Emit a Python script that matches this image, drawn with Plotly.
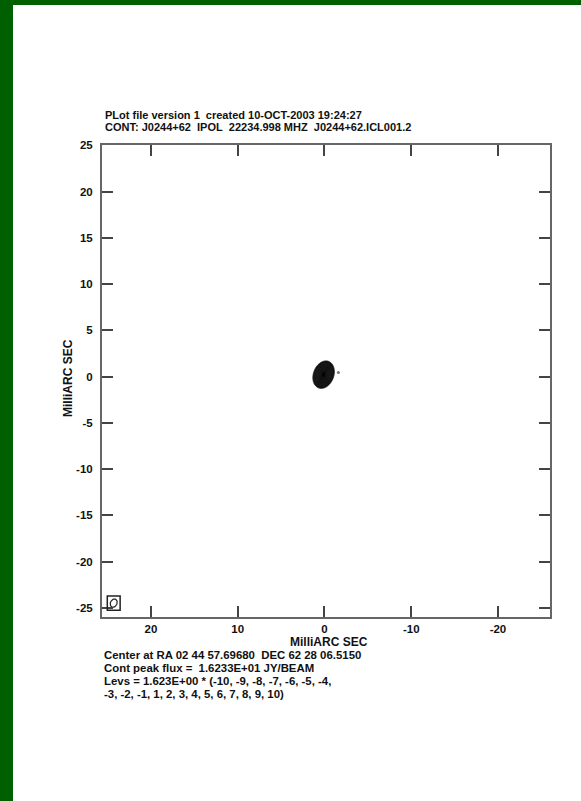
import numpy as np
import plotly.graph_objects as go

# ---- data ----
NB = "\u00a0"
title_lines = ["PLot file version 1" + NB * 2 + "created 10-OCT-2003 19:24:27",
               "CONT: J0244+62" + NB * 2 + "IPOL" + NB * 2 + "22234.998 MHZ" + NB * 2 + "J0244+62.ICL001.2"]
footer_lines = ["Center at RA 02 44 57.69680" + NB * 2 + "DEC 62 28 06.5150",
                "Cont peak flux =" + NB * 2 + "1.6233E+01 JY/BEAM",
                "Levs = 1.623E+00 * (-10, -9, -8, -7, -6, -5, -4,",
                "-3, -2, -1, 1, 2, 3, 4, 5, 6, 7, 8, 9, 10)"]
axis_title = "MilliARC SEC"
x_ticks = [20, 10, 0, -10, -20]
y_ticks = [25, 20, 15, 10, 5, 0, -5, -10, -15, -20, -25]
x_range = [25.65, -26.0]
y_range = [-26.0, 25.03]

peak_flux = 16.233
base_level = 1.623
level_multipliers = [-10, -9, -8, -7, -6, -5, -4, -3, -2, -1, 1, 2, 3, 4, 5, 6, 7, 8, 9, 10]

# source component (mas): centre, sigma major / minor, position angle (deg)
src_x, src_y = 0.1, 0.2
src_sig_maj, src_sig_min, src_pa = 0.72, 0.54, -25.0
# faint extra spot
spot_x = [-1.6]
spot_y = [0.43]
# restoring beam (mas)
beam_x, beam_y = 24.3, -24.5
beam_maj, beam_min, beam_pa = 0.95, 0.75, -30.0
beam_box_half = [0.74, 0.78]

# ---- build image ----
gx = np.arange(-3.0, 3.0001, 0.03)
gy = np.arange(-3.0, 3.0001, 0.03)
X, Y = np.meshgrid(gx, gy)
th = np.deg2rad(src_pa)
dx, dy = X - src_x, Y - src_y
u = dx * np.cos(th) - dy * np.sin(th)   # minor direction
v = dx * np.sin(th) + dy * np.cos(th)   # major direction
Z = peak_flux * np.exp(-0.5 * ((u / src_sig_min) ** 2 + (v / src_sig_maj) ** 2))

pos_levels = [base_level * m for m in level_multipliers if m > 0]

fig = go.Figure()
fig.add_trace(go.Contour(
    x=gx, y=gy, z=Z, zmin=0, zmax=peak_flux,
    contours=dict(start=min(pos_levels), end=max(pos_levels), size=base_level, coloring="fill"),
    colorscale=[[0, "rgba(255,255,255,0)"], [0.05, "rgba(255,255,255,0)"], [0.07, "#111"], [1, "#000"]],
    line=dict(width=1, color="#222"), showscale=False, hoverinfo="skip"))
fig.add_trace(go.Scatter(x=spot_x, y=spot_y, mode="markers",
                         marker=dict(size=3, color="#777"), hoverinfo="skip"))

# beam ellipse
t = np.linspace(0, 2 * np.pi, 60)
bt = np.deg2rad(beam_pa)
ea, eb = beam_maj / 2, beam_min / 2
ex = beam_x + eb * np.cos(t) * np.cos(bt) + ea * np.sin(t) * np.sin(bt)
ey = beam_y - eb * np.cos(t) * np.sin(bt) + ea * np.sin(t) * np.cos(bt)
fig.add_trace(go.Scatter(x=ex, y=ey, mode="lines", line=dict(color="#222", width=1.2), hoverinfo="skip"))
fig.add_shape(type="rect", xref="x", yref="y",
              x0=beam_x - beam_box_half[0], x1=beam_x + beam_box_half[0],
              y0=beam_y - beam_box_half[1], y1=beam_y + beam_box_half[1],
              line=dict(color="#222", width=1.5))

W, H = 581, 801
L, R, T, B = 102, 31, 145, 184
pw, ph = W - L - R, H - T - B

def px(xp):
    return (xp - L) / pw

def py(yp):
    return (H - B - yp) / ph

# white page on green background
fig.add_shape(type="rect", xref="paper", yref="paper", layer="below",
              x0=px(13), x1=px(W + 5), y0=py(H + 5), y1=py(5),
              fillcolor="white", line=dict(width=0))

FONT = "Liberation Sans, Arial, sans-serif"
ann = []
for s, yy in zip(title_lines, [114.6, 127.3]):
    ann.append(dict(text=s, x=px(103), y=py(yy), xanchor="left", yanchor="middle",
                    font=dict(size=11, weight="bold")))
for s, yy in zip(footer_lines, [654.5, 667.7, 680.9, 694.1]):
    ann.append(dict(text=s, x=px(102), y=py(yy), xanchor="left", yanchor="middle",
                    font=dict(size=11.4, weight="bold")))
ann.append(dict(text=axis_title, x=px(328.5), y=py(641.5), xanchor="center", yanchor="middle",
                font=dict(size=12, weight="bold")))
ann.append(dict(text=axis_title, x=px(68), y=py(378), xanchor="center", yanchor="middle",
                textangle=-90, font=dict(size=12, weight="bold")))
for a in ann:
    a.update(xref="paper", yref="paper", showarrow=False)
    a["font"].update(family=FONT, color="#111")

axis_common = dict(showgrid=False, zeroline=False, showline=True, linecolor="#666", linewidth=2,
                   mirror="ticks", ticks="inside", ticklen=11, tickwidth=1.5, tickcolor="#444",
                   tickfont=dict(family=FONT, size=11.5, color="#111", weight="bold"))

fig.update_layout(
    width=W, height=H, margin=dict(l=L, r=R, t=T, b=B),
    paper_bgcolor="#006000", plot_bgcolor="white", showlegend=False,
    annotations=ann,
    xaxis=dict(range=x_range, tickvals=x_ticks, ticktext=[str(v) for v in x_ticks],
               ticklabelstandoff=0, **axis_common),
    yaxis=dict(range=y_range, tickvals=y_ticks, ticktext=[str(v) for v in y_ticks],
               ticklabelstandoff=5, **axis_common),
)

fig.write_html("out.html", config={"displayModeBar": False},
               post_script="document.body.style.margin='0';document.body.style.overflow='hidden';")
